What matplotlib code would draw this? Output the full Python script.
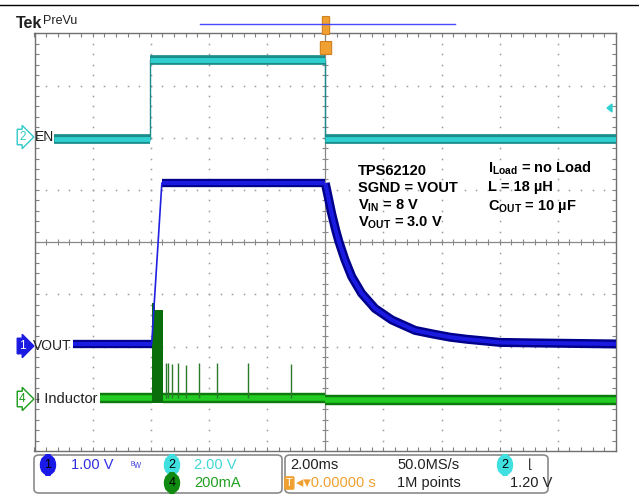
import numpy as np
import matplotlib
matplotlib.use("Agg")
import matplotlib.pyplot as plt
from matplotlib.patches import FancyBboxPatch, Polygon
from matplotlib.lines import Line2D

plt.rcParams['mathtext.fontset'] = 'custom'
plt.rcParams['mathtext.rm'] = 'Liberation Sans'
plt.rcParams['mathtext.bf'] = 'Liberation Sans:bold'

# ---------------- data (time in ms, level in screen divisions) ----------------
en_times = [-9.33, -6.03, 0.0, 10.0]
en_levels = [1.97, 3.49, 1.97]

vout_low_t = [-8.68, -5.97]
vout_low = -1.95
vout_rise_t = [-5.97, -5.62]
vout_high_t = [-5.62, 0.0]
vout_high = 1.13
vout_decay_t = [0.0, 0.10, 0.22, 0.36, 0.47, 0.68, 0.91, 1.25, 1.71, 2.29, 3.09, 3.71,
                4.29, 4.87, 6.01, 7.14, 10.0]
vout_decay_v = [1.13, 0.87, 0.55, 0.23, 0.01, -0.34, -0.66, -0.98, -1.27, -1.49, -1.69, -1.76,
                -1.82, -1.86, -1.92, -1.93, -1.95]

il_base1_t = [-7.75, -5.97]
il_base2_t = [-5.57, 0.0]
il_base3_t = [0.0, 10.0]
il_base1 = -2.99
il_base3 = -3.03
burst_t = [-5.97, -5.97, -5.86, -5.86, -5.57, -5.57]
burst_top = [-2.95, -1.17, -1.17, -1.30, -1.30, -2.95]
burst_bottom = -3.08
spike_t = [-5.49, -5.40, -5.28, -5.07, -4.79, -4.35, -3.71, -2.67, -1.18]
spike_top = [-2.31, -2.31, -2.33, -2.31, -2.36, -2.31, -2.31, -2.31, -2.33]

# ---------------- figure ----------------
W, H = 639, 496
fig = plt.figure(figsize=(W / 100, H / 100), dpi=100)
fig.patch.set_facecolor('white')

def P(x, y):
    return (x / W, 1 - y / H)

left, right, top, bottom = 34.5, 616.0, 33.3, 451.0
ax = fig.add_axes([left / W, 1 - bottom / H, (right - left) / W, (bottom - top) / H])
ax.set_xlim(-10, 10)
ax.set_ylim(-4, 4)
ax.set_facecolor('white')
for s in ax.spines.values():
    s.set_color('#707070')
    s.set_linewidth(1.0)
ax.set_xticks(np.arange(-10, 10.01, 2))
ax.set_yticks(np.arange(-4, 4.01, 1))
ax.set_xticks(np.arange(-10, 10.01, 0.4), minor=True)
ax.set_yticks(np.arange(-4, 4.01, 0.2), minor=True)
ax.tick_params(which='both', direction='in', top=True, right=True, labelbottom=False,
               labelleft=False, color='#808080', length=3, width=0.8)

grid_col = '#9a9a9a'
ys_dots = np.arange(-4, 4.01, 0.2)
xs_dots = np.arange(-10, 10.01, 0.4)
for gx in [-8, -6, -4, -2, 2, 4, 6, 8]:
    ax.plot(np.full_like(ys_dots, gx), ys_dots, ls='none', marker='s', ms=1.1, color=grid_col, mew=0)
for gy in [-3, -2, -1, 1, 2, 3]:
    ax.plot(xs_dots, np.full_like(xs_dots, gy), ls='none', marker='s', ms=1.1, color=grid_col, mew=0)
ax.axhline(0, color='#888888', lw=0.9)
ax.axvline(0, color='#888888', lw=0.9)
ax.plot(xs_dots, np.zeros_like(xs_dots), ls='none', marker='|', ms=5, color='#888888', mew=0.8)
ax.plot(np.zeros_like(ys_dots), ys_dots, ls='none', marker='_', ms=5, color='#888888', mew=0.8)

def band(t, y, dark, light, w1, w2, z):
    ax.plot(t, y, color=dark, lw=w1, solid_capstyle='butt', solid_joinstyle='round', zorder=z)
    ax.plot(t, y, color=light, lw=w2, solid_capstyle='butt', solid_joinstyle='round', zorder=z + 0.1)

# EN trace (cyan)
en_dark, en_light = '#1b8c8c', '#30d0d0'
for i, lv in enumerate(en_levels):
    band([en_times[i], en_times[i + 1]], [lv, lv], en_dark, en_light, 7.0, 3.5, 3)
for i in range(1, len(en_times) - 1):
    ax.plot([en_times[i]] * 2, [en_levels[i - 1], en_levels[i]], color=en_dark, lw=1.0, zorder=3)

# I inductor (green)
g_dark, g_light = '#0e7a0e', '#22cc22'
band(il_base1_t, [il_base1] * 2, g_dark, g_light, 7.5, 4.0, 4)
band(il_base2_t, [il_base1] * 2, g_dark, g_light, 7.5, 4.0, 4)
band(il_base3_t, [il_base3] * 2, g_dark, g_light, 7.5, 4.0, 4)
ax.fill_between(burst_t, burst_bottom, burst_top, color='#0a6e0a', lw=0, zorder=4.5)
ax.vlines(spike_t, il_base1, spike_top, color='#2a7a2a', lw=1.0, zorder=4.5)

# VOUT (blue)
b_dark, b_light = '#00008a', '#1a1ae0'
band(vout_low_t, [vout_low] * 2, b_dark, b_light, 6.0, 3.0, 5)
band(vout_high_t, [vout_high] * 2, b_dark, b_light, 6.0, 3.0, 5)
ax.plot(vout_rise_t, [vout_low, vout_high], color='#2020e0', lw=1.2, zorder=5)
band(vout_decay_t, vout_decay_v, b_dark, b_light, 6.5, 3.0, 5)

# ---------------- annotations inside graticule ----------------
af = dict(fontweight='bold', fontsize=10.5, color='black', family='Liberation Sans', va='baseline')
fig.text(*P(358, 175), 'TPS62120', **af)
fig.text(*P(358, 192), 'SGND = VOUT', **af)
fig.text(*P(358, 209), r'V$_\mathbf{IN}$ = 8 V', **af)
fig.text(*P(358, 226), r'V$_\mathbf{OUT}$ = 3.0 V', **af)
fig.text(*P(488, 172), r'I$_\mathbf{Load}$ = no Load', **af)
fig.text(*P(488, 191), 'L = 18 µH', **af)
fig.text(*P(488, 210), r'C$_\mathbf{OUT}$ = 10 µF', **af)

scr = ['Liberation Sans', 'DejaVu Sans']
txt_col = '#202020'

# channel markers on the left
fig.text(*P(19, 137), '2', fontsize=8.5, color='#30c8c8', family=scr, va='center', ha='left',
         bbox=dict(boxstyle='rarrow,pad=0.15', fc='white', ec='#30c8c8', lw=1))
fig.text(*P(35, 137), 'EN', fontsize=10, color=txt_col, family=scr, va='center')
fig.text(*P(19, 346), '1', fontsize=8.5, color='white', family=scr, va='center', ha='left',
         bbox=dict(boxstyle='rarrow,pad=0.15', fc='#1a1ae0', ec='#1a1ae0', lw=1))
fig.text(*P(33, 346), 'VOUT', fontsize=10, color=txt_col, family=scr, va='center')
fig.text(*P(19, 399), '4', fontsize=8.5, color='#1a9a1a', family=scr, va='center', ha='left',
         bbox=dict(boxstyle='rarrow,pad=0.15', fc='white', ec='#1a9a1a', lw=1))
fig.text(*P(36, 399), 'I Inductor', fontsize=10.5, color=txt_col, family=scr, va='center')

# top area
fig.add_artist(Line2D([0, 1], [1 - 5 / H] * 2, color='black', lw=1.0))
fig.text(*P(16, 23), 'Tek', fontsize=11.5, fontweight='bold', color='#202020', family=scr, va='center')
fig.text(*P(43, 21), 'PreVu', fontsize=9, color='#202020', family=scr, va='center')
fig.add_artist(Line2D([200 / W, 455 / W], [1 - 24 / H] * 2, color='#4848ff', lw=1.0))
fig.add_artist(FancyBboxPatch(P(323, 34), 6 / W, 17 / H, boxstyle='round,pad=0.001',
                              transform=fig.transFigure, fc='#f0a030', ec='#d08020', lw=0.8))
fig.add_artist(FancyBboxPatch(P(321, 54), 10 / W, 12 / H, boxstyle='round,pad=0.001',
                              transform=fig.transFigure, fc='#f0a030', ec='#d08020', lw=0.8))
fig.add_artist(Polygon([P(607, 108), P(612, 104), P(612, 112)], closed=True,
                       transform=fig.transFigure, fc='#30d0d0', ec='#30d0d0'))

# ---------------- bottom readout boxes ----------------
for x0, x1 in [(34, 282), (285, 548)]:
    fig.add_artist(FancyBboxPatch(P(x0, 493), (x1 - x0) / W, (493 - 455) / H,
                                  boxstyle='round,pad=0,rounding_size=0.008',
                                  transform=fig.transFigure, fc='white', ec='#8a8a8a', lw=1.2))

def chip(x, y, s, fc, tc='black'):
    fig.text(*P(x, y), s, fontsize=9, color=tc, family=scr, ha='center', va='center',
             bbox=dict(boxstyle='round,pad=0.32,rounding_size=0.8', fc=fc, ec=fc))

rf = dict(fontsize=10.5, family=scr, va='center')
chip(48, 465, '1', '#1a1ae8')
fig.text(*P(71, 465), '1.00 V', color='#3030e0', **rf)
fig.text(*P(131, 465), 'ᴮw', fontsize=7, color='#5050e0', family=scr, va='center')
chip(172, 465, '2', '#40e0e0')
fig.text(*P(194, 465), '2.00 V', color='#40d8d8', **rf)
chip(172, 483, '4', '#108a10')
fig.text(*P(194, 483), '200mA', color='#20a020', **rf)

fig.text(*P(290, 465), '2.00ms', color='#202020', **rf)
fig.text(*P(397, 465), '50.0MS/s', color='#202020', **rf)
chip(505, 465, '2', '#40e0e0')
fig.text(*P(528, 465), '⌊', fontsize=9, color='#202020', family='DejaVu Sans', va='center')
fig.text(*P(286, 483), 'T', fontsize=8, color='white', family=scr, va='center',
         bbox=dict(boxstyle='round,pad=0.1', fc='#f0a030', ec='#f0a030'))
fig.text(*P(296, 483), '◂▾0.00000 s', color='#f0a030', fontsize=10.5, family=scr, va='center')
fig.text(*P(397, 483), '1M points', color='#202020', **rf)
fig.text(*P(510, 483), '1.20 V', color='#202020', **rf)

fig.savefig('out.png', dpi=100, facecolor='white')
